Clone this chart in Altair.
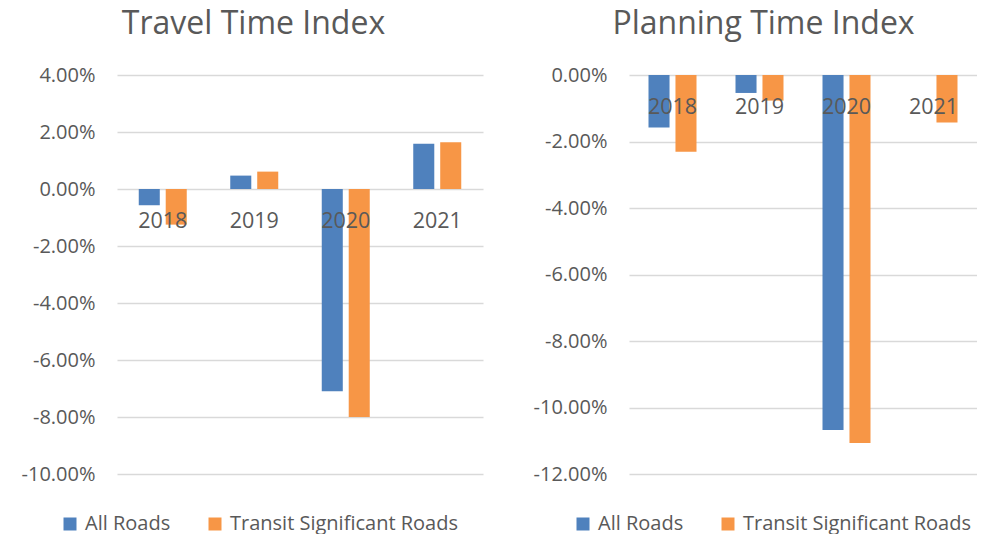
import altair as alt
import pandas as pd

years = ["2018", "2019", "2020", "2021"]
series = ["All Roads", "Transit Significant Roads"]
colors = ["#4F81BD", "#F79646"]

tti_all = [-0.57, 0.47, -7.10, 1.59]
tti_transit = [-1.25, 0.61, -8.00, 1.64]
pti_all = [-1.58, -0.54, -10.68, 0.0]
pti_transit = [-2.31, -0.77, -11.07, -1.43]

tti_ticks = [-0.10, -0.08, -0.06, -0.04, -0.02, 0.0, 0.02, 0.04]
pti_ticks = [-0.12, -0.10, -0.08, -0.06, -0.04, -0.02, 0.0]

GRAY = "#595959"
FONT = "Open Sans"


def make_df(a, b):
    rows = []
    for y, v in zip(years, a):
        rows.append({"year": y, "series": series[0], "value": v / 100})
    for y, v in zip(years, b):
        rows.append({"year": y, "series": series[1], "value": v / 100})
    return pd.DataFrame(rows)


year_df = pd.DataFrame({"year": years})


def panel(df, title, domain, ticks, width, legend_x, title_dx):
    step = width / 4
    p_inner = 1 - 48 / step
    x_enc = alt.X(
        "year:N",
        sort=years,
        scale=alt.Scale(paddingInner=p_inner, paddingOuter=p_inner / 2),
        axis=None,
    )
    bars = alt.Chart(df).mark_bar().encode(
        x=x_enc,
        xOffset=alt.XOffset(
            "series:N", sort=series, scale=alt.Scale(paddingInner=0.22, paddingOuter=0)
        ),
        y=alt.Y(
            "value:Q",
            scale=alt.Scale(domain=domain, nice=False, zero=False),
            axis=alt.Axis(
                values=ticks,
                labelExpr="replace(format(datum.value, '.2%'), '\u2212', '-')",
                title=None,
                grid=True,
                gridColor="#D9D9D9",
                gridWidth=1.3,
                domain=False,
                ticks=False,
                labelPadding=22,
                labelFontSize=20,
                labelColor=GRAY,
                labelFont=FONT,
                minExtent=109,
                maxExtent=109,
            ),
        ),
        color=alt.Color(
            "series:N",
            sort=series,
            scale=alt.Scale(domain=series, range=colors),
            legend=alt.Legend(
                title=None,
                orient="none",
                legendX=legend_x,
                legendY=439,
                direction="horizontal",
                symbolType="square",
                symbolSize=169,
                symbolStrokeWidth=0,
                labelFontSize=20,
                labelFont=FONT,
                labelColor=GRAY,
                labelLimit=0,
                columnPadding=34,
                labelOffset=5,
            ),
        ),
    )
    labels = alt.Chart(year_df).mark_text(
        fontSize=21.5, font=FONT, color=GRAY, baseline="alphabetic", dy=39
    ).encode(
        x=alt.X("year:N", sort=years),
        y=alt.datum(0),
        text="year:N",
    )
    return alt.layer(bars, labels).properties(
        width=width,
        height=399,
        title=alt.TitleParams(
            title,
            fontSize=32,
            font=FONT,
            color=GRAY,
            fontWeight="normal",
            anchor="middle",
            frame="bounds",
            offset=24,
            dx=title_dx,
        ),
    )


left = panel(make_df(tti_all, tti_transit), "Travel Time Index", [-0.10, 0.04], tti_ticks, 366, -57, 8)
right = panel(make_df(pti_all, pti_transit), "Planning Time Index", [-0.12, 0.0], pti_ticks, 348, -56, 15)

chart = (
    alt.hconcat(left, right, spacing=37)
    .resolve_scale(color="independent", y="independent", x="independent")
    .resolve_legend(color="independent")
    .properties(padding={"left": 0, "top": 0, "right": 0, "bottom": 0})
    .configure_view(stroke=None)
)

chart.save("out.html", embed_options={"renderer": "svg", "actions": False})
